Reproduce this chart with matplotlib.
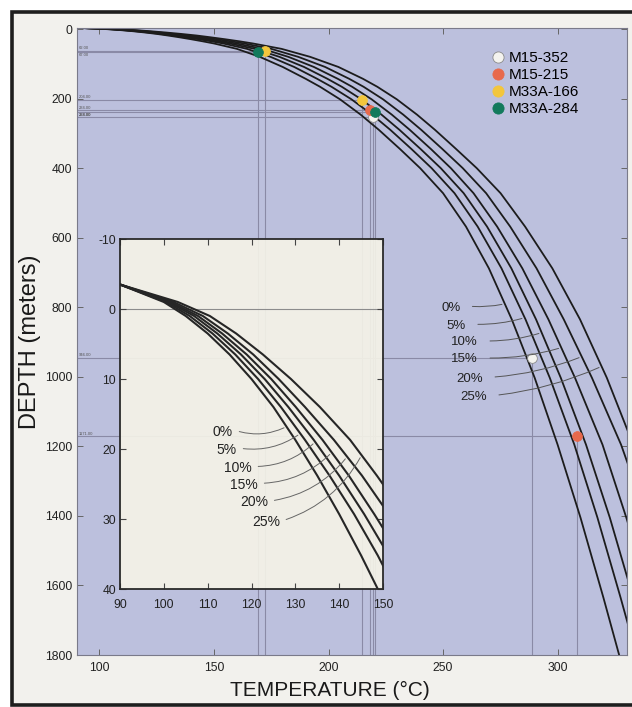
import matplotlib.pyplot as plt
from matplotlib.patches import Rectangle

plt.rcParams['font.family'] = ['Liberation Sans', 'DejaVu Sans']
plt.rcParams['axes.unicode_minus'] = False

# boiling point curves: depth (m) and temperature (C) for each salinity
pct = ['0%', '5%', '10%', '15%', '20%', '25%']
depth = [-3.5, -1, 1, 3.5, 6.5, 10, 14, 18.7, 23.8, 29.3, 35.2, 41.5, 57, 80, 109, 143, 166,
         202, 246, 290, 345, 400, 472, 568, 688, 835, 1003, 1195, 1405, 1635, 1875]
t0 = [90, 100, 105, 110, 115, 120, 125, 130, 135, 140, 145, 150, 160, 170, 180, 190, 196.3,
      205, 214, 222, 231.2, 240, 250, 260, 270, 280, 290, 300, 310, 320, 330]
t5 = [90, 100.5, 105.9, 111.1, 116.3, 121.5, 126.7, 132.2, 137.8, 143.4, 148.8, 154, 164.4, 174.7, 185, 195, 201.3,
      210, 219, 227, 236.2, 245, 255, 265.1, 275.5, 286, 296.6, 307.3, 317.4, 327.5, 337.6]
t10 = [90, 101, 106.9, 112.2, 117.6, 123, 128.4, 134.2, 140, 145.7, 151.3, 156.8, 167.8, 178.6, 189.3, 199.5, 205.8,
       214.3, 223.1, 231, 240.2, 249, 259, 269.2, 279.8, 290.6, 301.4, 312.4, 322.8, 333, 343.2]
t15 = [90, 101.5, 107.8, 113.3, 118.9, 124.5, 130.1, 136.2, 142.2, 148, 153.9, 159.7, 171.2, 182.5, 193.6, 204, 210.3,
       218.8, 227.6, 235.5, 244.7, 253.4, 263.3, 273.6, 284.6, 296, 307.6, 319.6, 330, 340.5, 351]
t20 = [90, 102.2, 108.9, 114.6, 120.4, 126.2, 132.2, 138.8, 145.2, 151.3, 157.3, 163.2, 175, 186.8, 198.5, 209, 215.3,
       223.8, 232.6, 240.5, 249.7, 258.6, 268.8, 279.3, 290.8, 302.7, 315, 327.7, 339, 350, 360]
t25 = [90, 103.2, 110.5, 116.5, 122.6, 129, 135.6, 142.5, 148.6, 154.8, 161, 167, 179.5, 192, 204.3, 215, 221.3,
       229.8, 238.6, 246.5, 255.7, 264.7, 275.1, 285.8, 297.7, 309.8, 321.5, 333, 344, 355, 365]
curves = [t0, t5, t10, t15, t20, t25]

# samples (two readings each)
sample_names = ['M15-352', 'M15-215', 'M33A-166', 'M33A-284']
sample_colors = ['#f4f3ef', '#e8694c', '#f3c63c', '#127a5c']
sample_temp = [[219.6, 288.7], [218.2, 308.5], [172.3, 214.5], [169.2, 220.3]]
sample_depth = [[254, 946], [234, 1171], [62, 204], [67, 238]]

# curve labels: main plot (right end of text, leader end on curve)
main_lab_t = [257.6, 260.0, 265.3, 265.3, 267.5, 269.2]
main_lab_d = [801, 853, 901, 950, 1005, 1057]
main_end_t = [276.9, 285.6, 293.0, 301.6, 310.5, 319.2]
main_end_d = [790, 830, 873, 916, 942, 970]
# inset labels
ins_lab_t = [115.8, 116.7, 120.1, 121.5, 123.8, 126.5]
ins_lab_d = [17.6, 20.1, 22.7, 25.1, 27.6, 30.4]
ins_end_t = [128.0, 131.1, 134.5, 138.3, 141.8, 145.1]
ins_end_d = [16.8, 17.8, 19.0, 20.5, 21.1, 20.9]

W, H = 632, 707
fig = plt.figure(figsize=(W / 100, H / 100), dpi=100)
fig.patch.set_facecolor('white')
frame = Rectangle((12 / W, 2 / H), 1.0, 693 / H, transform=fig.transFigure,
                  facecolor='#f2f1ed', edgecolor='#1e1e1e', lw=2.6, zorder=-5)
fig.add_artist(frame)

ax = fig.add_axes([77 / W, 1 - 655 / H, 550 / W, 627 / H])
ax.set_facecolor('#bcc0dd')
xmin, xmax = 90.2, 330.3
ax.set_xlim(xmin, xmax)
ax.set_ylim(1800, -3)
ax.set_xticks([100, 150, 200, 250, 300])
ax.set_yticks(range(0, 1801, 200))
ax.tick_params(direction='in', top=True, right=True, length=4, width=0.7,
               color='#666', labelcolor='#222', labelsize=8.7)
ax.tick_params(axis='x', pad=5)
ax.tick_params(axis='y', pad=3.5)
for s in ax.spines.values():
    s.set_color('#7a7a8a')
    s.set_linewidth(0.8)

# reference lines to each sample reading
all_d = sorted(d for deps in sample_depth for d in deps)
for name, temps, deps in zip(sample_names, sample_temp, sample_depth):
    for t, d in zip(temps, deps):
        ax.plot([xmin, t], [d, d], color='#8a8aa6', lw=0.8, zorder=1)
        ax.plot([t, t], [d, 1800], color='#8a8aa6', lw=0.8, zorder=1)
        i = all_d.index(d)
        below = i > 0 and d - all_d[i - 1] < 10
        ax.text(xmin + 0.6, d + (2 if below else -2), f'{d:.2f}', fontsize=3, color='#555',
                va='top' if below else 'bottom')

for t in curves:
    ax.plot(t, depth, color='#1c1c1c', lw=1.3, zorder=2)

for name, col, temps, deps in zip(sample_names, sample_colors, sample_temp, sample_depth):
    ax.plot(temps, deps, 'o', ms=7, color=col, mec='#8a8a8a' if col == '#f4f3ef' else col,
            mew=0.6, ls='none', zorder=3, label=name)

ax.legend(loc='upper left', bbox_to_anchor=(0.7545, 0.9635), frameon=False, fontsize=11,
          handlelength=0.8, handletextpad=0.3, labelspacing=0.2, markerscale=1.15,
          borderaxespad=0, borderpad=0)

for p, lt, ld, et, ed in zip(pct, main_lab_t, main_lab_d, main_end_t, main_end_d):
    ax.text(lt, ld, p, fontsize=9.5, ha='right', va='center', color='#222')
    ax.annotate('', xy=(et, ed), xytext=(lt + 4, ld - 4),
                arrowprops=dict(arrowstyle='-', color='#555', lw=0.7,
                                connectionstyle='arc3,rad=0.08'))

fig.text(330 / W, 1 - 690 / H, 'TEMPERATURE (°C)', fontsize=15, ha='center', va='center', color='#1a1a1a')
fig.text(30 / W, 1 - 342 / H, 'DEPTH (meters)', fontsize=17, rotation=90, ha='center', va='center', color='#1a1a1a')

# inset: shallow part of the curves
axin = fig.add_axes([120 / W, 1 - 589 / H, 263 / W, 350 / H])
axin.set_facecolor((0.965, 0.955, 0.91, 0.9))
axin.set_xlim(90, 150)
axin.set_ylim(40, -10)
axin.set_xticks(range(90, 151, 10))
axin.set_yticks(range(-10, 41, 10))
axin.tick_params(direction='in', top=True, right=True, length=4, width=0.8,
                 color='#444', labelcolor='#222', labelsize=8.7)
axin.tick_params(axis='x', pad=7)
axin.tick_params(axis='y', pad=3)
for s in axin.spines.values():
    s.set_color('#2a2a2a')
    s.set_linewidth(1.3)
axin.axhline(0, color='#8c8c8c', lw=0.8, zorder=1)
for t in curves:
    axin.plot(t, depth, color='#262626', lw=1.5, zorder=2)
for p, lt, ld, et, ed in zip(pct, ins_lab_t, ins_lab_d, ins_end_t, ins_end_d):
    axin.text(lt, ld, p, fontsize=10, ha='right', va='center', color='#222')
    axin.annotate('', xy=(et, ed), xytext=(lt + 0.8, ld - 0.2),
                  arrowprops=dict(arrowstyle='-', color='#666', lw=0.7,
                                  connectionstyle='arc3,rad=0.2'))

fig.savefig('out.png', dpi=100, facecolor=fig.get_facecolor())
